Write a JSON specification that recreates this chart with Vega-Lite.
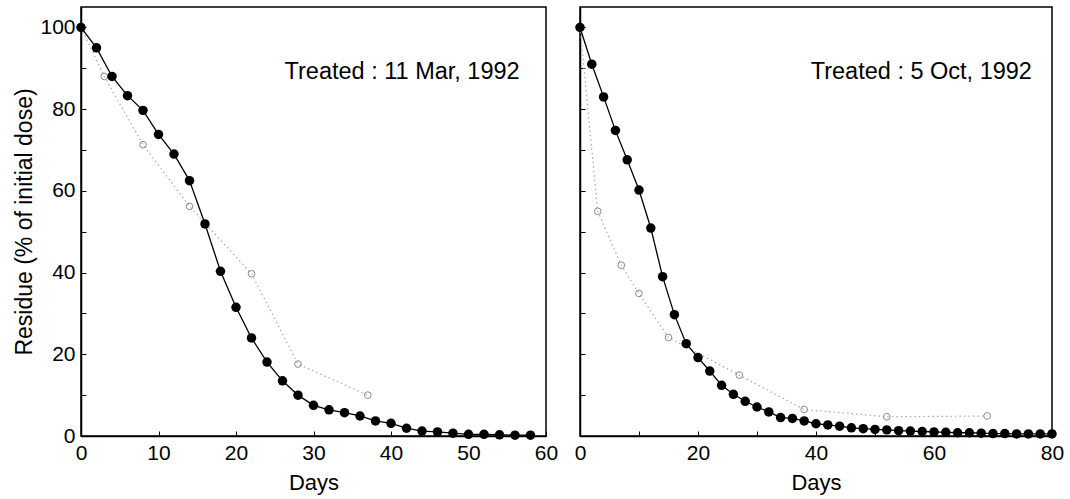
{
  "$schema": "https://vega.github.io/schema/vega-lite/v6.json",
  "background": "white",
  "padding": {"left": 13, "top": 6, "right": 5, "bottom": 5},
  "bounds": "flush",
  "spacing": 34,
  "config": {
    "font": "Liberation Sans",
    "view": {"stroke": "black", "strokeWidth": 1.5},
    "axis": {
      "domainColor": "black", "domainWidth": 1.5,
      "tickColor": "black", "tickSize": -5, "tickWidth": 1,
      "labelFontSize": 21, "labelColor": "black", "labelPadding": 11,
      "labelFlush": false, "labelOverlap": false, "labelBound": false,
      "titleFontSize": 22, "titleFontWeight": "normal", "titleColor": "black",
      "grid": false
    }
  },
  "datasets": {
    "mar": [
      {"series": "closed", "day": 0, "residue": 100},
      {"series": "closed", "day": 2, "residue": 95},
      {"series": "closed", "day": 4, "residue": 88},
      {"series": "closed", "day": 6, "residue": 83.3},
      {"series": "closed", "day": 8, "residue": 79.7},
      {"series": "closed", "day": 10, "residue": 73.8},
      {"series": "closed", "day": 12, "residue": 69},
      {"series": "closed", "day": 14, "residue": 62.5},
      {"series": "closed", "day": 16, "residue": 51.9},
      {"series": "closed", "day": 18, "residue": 40.3},
      {"series": "closed", "day": 20, "residue": 31.5},
      {"series": "closed", "day": 22, "residue": 24},
      {"series": "closed", "day": 24, "residue": 18.1},
      {"series": "closed", "day": 26, "residue": 13.5},
      {"series": "closed", "day": 28, "residue": 10},
      {"series": "closed", "day": 30, "residue": 7.5},
      {"series": "closed", "day": 32, "residue": 6.4},
      {"series": "closed", "day": 34, "residue": 5.7},
      {"series": "closed", "day": 36, "residue": 4.9},
      {"series": "closed", "day": 38, "residue": 3.7},
      {"series": "closed", "day": 40, "residue": 3.1},
      {"series": "closed", "day": 42, "residue": 1.9},
      {"series": "closed", "day": 44, "residue": 1.2},
      {"series": "closed", "day": 46, "residue": 1.0},
      {"series": "closed", "day": 48, "residue": 0.7},
      {"series": "closed", "day": 50, "residue": 0.4},
      {"series": "closed", "day": 52, "residue": 0.4},
      {"series": "closed", "day": 54, "residue": 0.3},
      {"series": "closed", "day": 56, "residue": 0.2},
      {"series": "closed", "day": 58, "residue": 0.2},
      {"series": "open", "day": 0, "residue": 100},
      {"series": "open", "day": 3, "residue": 88},
      {"series": "open", "day": 8, "residue": 71.3},
      {"series": "open", "day": 14, "residue": 56.2},
      {"series": "open", "day": 22, "residue": 39.7},
      {"series": "open", "day": 28, "residue": 17.6},
      {"series": "open", "day": 37, "residue": 10}
    ],
    "oct": [
      {"series": "closed", "day": 0, "residue": 100},
      {"series": "closed", "day": 2, "residue": 91},
      {"series": "closed", "day": 4, "residue": 83},
      {"series": "closed", "day": 6, "residue": 74.8},
      {"series": "closed", "day": 8, "residue": 67.6},
      {"series": "closed", "day": 10, "residue": 60.2},
      {"series": "closed", "day": 12, "residue": 50.9},
      {"series": "closed", "day": 14, "residue": 39},
      {"series": "closed", "day": 16, "residue": 29.7},
      {"series": "closed", "day": 18, "residue": 22.6},
      {"series": "closed", "day": 20, "residue": 19.2},
      {"series": "closed", "day": 22, "residue": 15.9},
      {"series": "closed", "day": 24, "residue": 12.4},
      {"series": "closed", "day": 26, "residue": 10.2},
      {"series": "closed", "day": 28, "residue": 8.5},
      {"series": "closed", "day": 30, "residue": 7.1},
      {"series": "closed", "day": 32, "residue": 5.9},
      {"series": "closed", "day": 34, "residue": 4.5},
      {"series": "closed", "day": 36, "residue": 4.3},
      {"series": "closed", "day": 38, "residue": 3.7},
      {"series": "closed", "day": 40, "residue": 3.0},
      {"series": "closed", "day": 42, "residue": 2.7},
      {"series": "closed", "day": 44, "residue": 2.4},
      {"series": "closed", "day": 46, "residue": 2.0},
      {"series": "closed", "day": 48, "residue": 1.8},
      {"series": "closed", "day": 50, "residue": 1.6},
      {"series": "closed", "day": 52, "residue": 1.5},
      {"series": "closed", "day": 54, "residue": 1.3},
      {"series": "closed", "day": 56, "residue": 1.2},
      {"series": "closed", "day": 58, "residue": 1.1},
      {"series": "closed", "day": 60, "residue": 1.0},
      {"series": "closed", "day": 62, "residue": 0.9},
      {"series": "closed", "day": 64, "residue": 0.8},
      {"series": "closed", "day": 66, "residue": 0.8},
      {"series": "closed", "day": 68, "residue": 0.7},
      {"series": "closed", "day": 70, "residue": 0.6},
      {"series": "closed", "day": 72, "residue": 0.6},
      {"series": "closed", "day": 74, "residue": 0.5},
      {"series": "closed", "day": 76, "residue": 0.5},
      {"series": "closed", "day": 78, "residue": 0.5},
      {"series": "closed", "day": 80, "residue": 0.5},
      {"series": "open", "day": 0, "residue": 100},
      {"series": "open", "day": 3, "residue": 55},
      {"series": "open", "day": 7, "residue": 41.8},
      {"series": "open", "day": 10, "residue": 34.9},
      {"series": "open", "day": 15, "residue": 24.1},
      {"series": "open", "day": 27, "residue": 14.9},
      {"series": "open", "day": 38, "residue": 6.5},
      {"series": "open", "day": 52, "residue": 4.7},
      {"series": "open", "day": 69, "residue": 4.9}
    ],
    "notes": [
      {"panel": "mar", "day": 56.6, "residue": 87.5, "note": "Treated : 11 Mar, 1992"},
      {"panel": "oct", "day": 76.6, "residue": 87.5, "note": "Treated : 5 Oct, 1992"}
    ]
  },
  "hconcat": [
    {
      "width": 465,
      "height": 429,
      "data": {"name": "mar"},
      "encoding": {
        "x": {
          "field": "day", "type": "quantitative",
          "scale": {"domain": [0, 60], "nice": false},
          "axis": {"title": "Days", "titlePadding": 9, "values": [0, 10, 20, 30, 40, 50, 60]}
        },
        "y": {
          "field": "residue", "type": "quantitative",
          "scale": {"domain": [0, 105], "nice": false},
          "axis": {
            "title": "Residue (% of initial dose)", "titlePadding": 3, "titleFontSize": 23,
            "values": [0, 10, 20, 30, 40, 50, 60, 70, 80, 90, 100],
            "labelExpr": "datum.value % 20 == 0 ? datum.label : ''"
          }
        }
      },
      "layer": [
        {
          "transform": [{"filter": "datum.series == 'open'"}],
          "mark": {"type": "line", "color": "#a8a8a8", "strokeWidth": 1.2, "strokeDash": [1.5, 3]}
        },
        {
          "transform": [{"filter": "datum.series == 'open'"}],
          "mark": {"type": "point", "shape": "circle", "filled": false, "color": "#8a8a8a", "strokeWidth": 1, "size": 45, "opacity": 1}
        },
        {
          "transform": [{"filter": "datum.series == 'closed'"}],
          "mark": {"type": "line", "color": "black", "strokeWidth": 1.3}
        },
        {
          "transform": [{"filter": "datum.series == 'closed'"}],
          "mark": {"type": "point", "shape": "circle", "filled": true, "color": "black", "size": 90, "opacity": 1}
        },
        {
          "data": {"name": "notes"},
          "transform": [{"filter": "datum.panel == 'mar'"}],
          "mark": {"type": "text", "align": "right", "baseline": "alphabetic", "fontSize": 23.5, "color": "black"},
          "encoding": {"text": {"field": "note"}}
        }
      ]
    },
    {
      "width": 472,
      "height": 429,
      "data": {"name": "oct"},
      "encoding": {
        "x": {
          "field": "day", "type": "quantitative",
          "scale": {"domain": [0, 80], "nice": false},
          "axis": {
            "title": "Days", "titlePadding": 9,
            "values": [0, 10, 20, 30, 40, 50, 60, 70, 80],
            "labelExpr": "datum.value % 20 == 0 ? datum.label : ''"
          }
        },
        "y": {
          "field": "residue", "type": "quantitative",
          "scale": {"domain": [0, 105], "nice": false},
          "axis": {"title": null, "labels": false, "values": [0, 10, 20, 30, 40, 50, 60, 70, 80, 90, 100]}
        }
      },
      "layer": [
        {
          "transform": [{"filter": "datum.series == 'open'"}],
          "mark": {"type": "line", "color": "#a8a8a8", "strokeWidth": 1.2, "strokeDash": [1.5, 3]}
        },
        {
          "transform": [{"filter": "datum.series == 'open'"}],
          "mark": {"type": "point", "shape": "circle", "filled": false, "color": "#8a8a8a", "strokeWidth": 1, "size": 45, "opacity": 1}
        },
        {
          "transform": [{"filter": "datum.series == 'closed'"}],
          "mark": {"type": "line", "color": "black", "strokeWidth": 1.3}
        },
        {
          "transform": [{"filter": "datum.series == 'closed'"}],
          "mark": {"type": "point", "shape": "circle", "filled": true, "color": "black", "size": 90, "opacity": 1}
        },
        {
          "data": {"name": "notes"},
          "transform": [{"filter": "datum.panel == 'oct'"}],
          "mark": {"type": "text", "align": "right", "baseline": "alphabetic", "fontSize": 23.5, "color": "black"},
          "encoding": {"text": {"field": "note"}}
        }
      ]
    }
  ]
}
